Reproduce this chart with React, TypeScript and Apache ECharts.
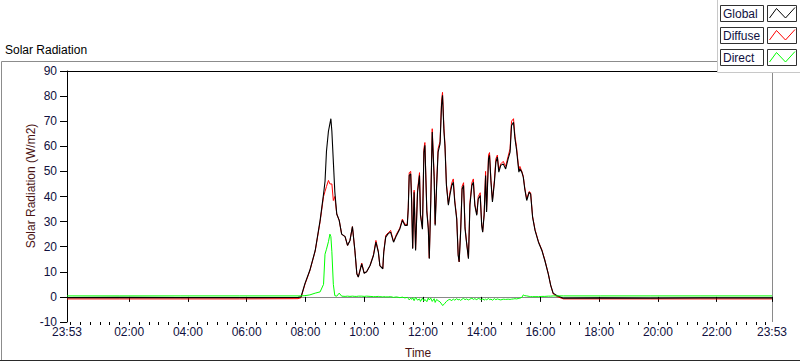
import React, { useEffect, useRef } from "react";
import * as echarts from "echarts";

// minutes elapsed since the chart start (23:53 of the previous day)
const minutesSinceStart = [
  0, 108, 231, 353, 472, 478, 486, 496, 507, 517,
  524, 527, 530, 534, 537, 539, 541, 544, 547, 551,
  556, 561, 568, 573, 578, 583, 588, 592, 595, 602,
  607, 612, 619, 626, 631, 636, 639, 645, 647, 651,
  656, 661, 667, 673, 680, 685, 690, 695, 697, 699,
  702, 704, 706, 709, 712, 716, 720, 722, 726, 729,
  731, 735, 738, 740, 743, 746, 750, 752, 755, 758,
  762, 765, 767, 770, 772, 775, 779, 782, 786, 789,
  792, 796, 799, 801, 804, 807, 810, 813, 816, 820,
  823, 827, 830, 833, 837, 840, 844, 847, 849, 852,
  855, 857, 861, 863, 866, 869, 873, 876, 879, 882,
  886, 891, 896, 901, 905, 908, 912, 915, 918, 923,
  925, 929, 932, 935, 939, 944, 947, 951, 956, 963,
  970, 976, 983, 988, 993, 1000, 1014, 1089, 1191, 1293,
  1440,
];

const globalRad = [
  -0.3, -0.2, -0.3, -0.3, -0.2, 0, 5.3, 10.6, 18.5, 30.5,
  41, 46, 58, 66, 69, 71, 66, 54, 42, 33,
  30.5, 25, 24, 20.5, 22.5, 28, 18.5, 9.2, 7.9, 13.2,
  9.4, 10, 12.5, 16.5, 21.8, 17.8, 12.5, 11.2, 17.8, 23.8,
  25.2, 25.8, 21.8, 24.5, 27.2, 30.5, 28.5, 28.5, 35, 48.4,
  49, 37.8, 19.2, 41.7, 18.5, 41.7, 48.4, 32.5, 27, 57.7,
  60.4, 33.8, 27, 15.2, 37.8, 65.7, 47, 28.5, 44.4, 57.7,
  61, 76.3, 80.3, 65.7, 60, 44.4, 36.5, 40.4, 44.4, 45.7,
  37.8, 31, 16.5, 13.9, 25.8, 43, 44.4, 27.2, 21.8, 15.2,
  36.5, 44.4, 45.7, 36.5, 32.5, 39, 40.4, 28.5, 25.8, 32.5,
  48.4, 33.8, 55, 56.4, 45.7, 37.8, 45.7, 53.7, 55.7, 49.7,
  52.4, 53, 51, 55, 57.7, 68.3, 69.6, 63, 59, 49.7,
  51, 49.7, 47.7, 43, 38.4, 41.7, 41, 31.8, 26.5, 21.8,
  18.5, 14.5, 9.2, 4.6, 1.5, 0.6, -0.5, -0.4, -0.5, -0.4,
  -0.4,
];

const diffuseRad = [
  -0.8, -0.8, -0.8, -0.8, -0.7, -0.3, 5.0, 10.4, 18.3, 30,
  40, 42, 44, 46.4, 45, 45, 45, 38.4, 40, 33,
  30.5, 25, 24, 20.5, 22.5, 28, 18.5, 9.2, 7.9, 13.5,
  9.5, 10, 12.5, 16.8, 22.5, 18, 12.5, 11.2, 18, 24.5,
  25.5, 26.5, 22, 25, 27.5, 31, 29, 28.8, 35.5, 49.5,
  50, 38.5, 19.5, 42.5, 19, 42.5, 49.5, 33, 27.5, 59,
  61.5, 34.5, 27.5, 15.5, 38.5, 67, 48, 29, 45, 59,
  62, 78, 81.5, 67, 61, 45, 37, 41.5, 45.5, 47,
  38.5, 31.5, 17, 14, 26.5, 44, 45.5, 28, 22, 15.5,
  37.5, 45.5, 47, 37, 33, 40, 41.5, 29, 26, 33,
  50, 34.5, 56.5, 57.5, 46.5, 38.5, 46.5, 55, 56.5, 50.5,
  53, 54, 52, 56, 59, 70, 71, 64, 60, 50.5,
  52, 50, 48, 43.5, 39, 42, 41.5, 32, 26.8, 22,
  18.7, 14.7, 9.3, 4.6, 1.2, 0.2, -0.8, -0.8, -0.8, -0.8,
  -0.8,
];

const directRad = [
  0.4, 0.4, 0.4, 0.4, 0.4, 0.4, 0.5, 0.8, 1.5, 2,
  5, 17, 19, 22, 25, 24, 18, 5, 0.5, 0.3,
  1.5, 0.3, 0.2, 0.3, 0.2, 0.3, 0.2, 0.2, 0.3, 0.3,
  0.2, 0.3, 0.2, 0.1, 0.1, 0.2, 0.1, 0, 0.1, 0,
  0, 0.1, -0.2, 0, -0.3, -0.1, -0.4, -0.2, -0.6, -1.2,
  -0.5, -1, -0.3, -1.5, -0.2, -1.3, -0.8, -1.8, -0.5, -1.6,
  -1, -1.9, -0.4, -1.2, -0.5, -1.8, -0.7, -2.2, -1, -1.5,
  -2, -2.8, -3.4, -3, -2.5, -1.8, -1.2, -1, -1.5, -0.8,
  -1.3, -0.7, -1.2, -0.9, -1.4, -0.9, -0.6, -1.1, -0.8, -1.2,
  -0.9, -0.5, -1, -0.7, -1.1, -0.6, -0.9, -1.2, -0.7, -1.3,
  -0.8, -1.2, -0.6, -1.1, -0.9, -1.3, -0.7, -1.1, -0.8, -1,
  -1.2, -0.9, -1, -0.9, -1, -0.9, -0.8, -0.7, -0.8, -0.6,
  -0.5, -0.2, 0.8, 0.5, 0.4, 0.2, 0.1, 0.1, 0.1, 0.1,
  0.2, 0.2, 0.3, 0.3, 0.4, 0.4, 0.4, 0.4, 0.4, 0.4,
  0.4,
];

const majorTickMinutes = [0, 127, 247, 367, 487, 607, 727, 847, 967, 1087, 1207, 1327, 1440];
const majorTickLabels = [
  "23:53", "02:00", "04:00", "06:00", "08:00", "10:00", "12:00",
  "14:00", "16:00", "18:00", "20:00", "22:00", "23:53",
];
const minorTickMinutes: number[] = [];
for (let m = 7; m < 1440; m += 20) minorTickMinutes.push(m);

const seriesNames = ["Global", "Diffuse", "Direct"];
const seriesColors = ["#000000", "#ff0000", "#00ff00"];

const FONT = "Liberation Sans";
const LABEL_COLOR = "#101040";
const TITLE_COLOR = "#4a1414";

export default function App() {
  const ref = useRef<HTMLDivElement>(null);

  useEffect(() => {
    if (!ref.current) return;
    const chart = echarts.init(ref.current, undefined, { renderer: "svg" });

    const pairs = (vals: number[]) => minutesSinceStart.map((m, i) => [m, vals[i]]);
    const labelFor = (v: number) => {
      const i = majorTickMinutes.indexOf(Math.round(v));
      return i >= 0 ? majorTickLabels[i] : "";
    };

    const legendItems = seriesNames.map((name, i) => {
      const top = [5, 27, 49][i];
      return [
        {
          type: "rect",
          shape: { x: 720.5, y: top + 0.5, width: 43, height: 16 },
          style: { fill: "#ffffff", stroke: "#303030", lineWidth: 1 },
        },
        {
          type: "text",
          x: 723,
          y: top + 9,
          style: {
            text: name,
            font: `12px "${FONT}"`,
            fill: LABEL_COLOR,
            verticalAlign: "middle",
          },
        },
        {
          type: "rect",
          shape: { x: 767.5, y: top + 0.5, width: 29, height: 16 },
          style: { fill: "#ffffff", stroke: "#303030", lineWidth: 1 },
        },
        {
          type: "polyline",
          shape: {
            points: [
              [769.5, top + 13],
              [776.5, top + 3.5],
              [785.5, top + 13],
              [795, top + 2.5],
            ],
          },
          style: { stroke: seriesColors[i], lineWidth: 1, fill: "none" },
        },
      ];
    }).flat();

    chart.setOption({
      animation: false,
      backgroundColor: "#ffffff",
      grid: { left: 67, right: 28, top: 71, bottom: 39, containLabel: false },
      xAxis: [
        {
          type: "value",
          min: 0,
          max: 1440,
          position: "bottom",
          axisLine: { show: true, lineStyle: { color: "#8a8a8a", width: 1 } },
          axisTick: {
            show: true,
            inside: false,
            length: 5,
            customValues: majorTickMinutes,
            lineStyle: { color: "#000000" },
          },
          axisLabel: {
            show: true,
            customValues: majorTickMinutes,
            formatter: (v: number) => labelFor(v),
            margin: 4,
            color: LABEL_COLOR,
            fontFamily: FONT,
            fontSize: 12,
            showMinLabel: true,
            showMaxLabel: true,
          },
          splitLine: { show: false },
        },
        {
          type: "value",
          min: 0,
          max: 1440,
          position: "bottom",
          axisLine: { show: false },
          axisTick: {
            show: true,
            inside: false,
            length: 3,
            customValues: minorTickMinutes,
            lineStyle: { color: "#000000" },
          },
          axisLabel: { show: false },
          splitLine: { show: false },
        },
      ],
      yAxis: {
        type: "value",
        min: -10,
        max: 90,
        interval: 10,
        axisLine: { show: true, lineStyle: { color: "#000000", width: 1 } },
        axisTick: { show: true, inside: false, length: 7, lineStyle: { color: "#000000" } },
        axisLabel: {
          margin: 10,
          color: LABEL_COLOR,
          fontFamily: FONT,
          fontSize: 12,
        },
        splitLine: { show: false },
      },
      series: [
        {
          name: "Diffuse",
          type: "line",
          data: pairs(diffuseRad),
          showSymbol: false,
          lineStyle: { color: seriesColors[1], width: 1 },
          itemStyle: { color: seriesColors[1] },
          z: 2,
        },
        {
          name: "Global",
          type: "line",
          data: pairs(globalRad),
          showSymbol: false,
          lineStyle: { color: seriesColors[0], width: 1.1 },
          itemStyle: { color: seriesColors[0] },
          z: 3,
        },
        {
          name: "Direct",
          type: "line",
          data: pairs(directRad),
          showSymbol: false,
          lineStyle: { color: seriesColors[2], width: 1 },
          itemStyle: { color: seriesColors[2] },
          z: 4,
        },
      ],
      graphic: [
        // outer frame
        { type: "line", shape: { x1: 1.5, y1: 61.5, x2: 717, y2: 61.5 }, style: { stroke: "#8c8c8c", lineWidth: 1 } },
        { type: "line", shape: { x1: 1.5, y1: 61.5, x2: 1.5, y2: 361 }, style: { stroke: "#8c8c8c", lineWidth: 1 } },
        { type: "line", shape: { x1: 0, y1: 360.5, x2: 800, y2: 360.5 }, style: { stroke: "#2a2a2a", lineWidth: 1 } },
        // plot border (top black, right gray)
        { type: "line", shape: { x1: 67, y1: 71.5, x2: 772, y2: 71.5 }, style: { stroke: "#000000", lineWidth: 1 } },
        { type: "line", shape: { x1: 772.5, y1: 71, x2: 772.5, y2: 322 }, style: { stroke: "#8a8a8a", lineWidth: 1 } },
        // titles
        {
          type: "text",
          x: 5,
          y: 50,
          style: {
            text: "Solar Radiation",
            font: `12px "${FONT}"`,
            fill: "#000000",
            verticalAlign: "middle",
          },
        },
        {
          type: "text",
          x: 31,
          y: 186,
          rotation: Math.PI / 2,
          style: {
            text: "Solar Radiation (W/m2)",
            font: `12px "${FONT}"`,
            fill: TITLE_COLOR,
            align: "center",
            verticalAlign: "middle",
          },
        },
        {
          type: "text",
          x: 405,
          y: 353,
          style: {
            text: "Time",
            font: `12px "${FONT}"`,
            fill: TITLE_COLOR,
            verticalAlign: "middle",
          },
        },
        // legend panel
        {
          type: "rect",
          shape: { x: 717, y: 0, width: 83, height: 72 },
          style: { fill: "#ffffff" },
          z: 10,
        },
        { type: "line", shape: { x1: 717.5, y1: 0, x2: 717.5, y2: 72.5 }, style: { stroke: "#c8c8c8", lineWidth: 1 }, z: 11 },
        { type: "line", shape: { x1: 717.5, y1: 72.5, x2: 800, y2: 72.5 }, style: { stroke: "#c8c8c8", lineWidth: 1 }, z: 11 },
        ...legendItems.map((g: any) => ({ ...g, z: 12 })),
      ],
    });

    return () => chart.dispose();
  }, []);

  return (
    <div
      ref={ref}
      style={{ position: "absolute", left: 0, top: 0, width: 800, height: 361, background: "#ffffff" }}
    />
  );
}
